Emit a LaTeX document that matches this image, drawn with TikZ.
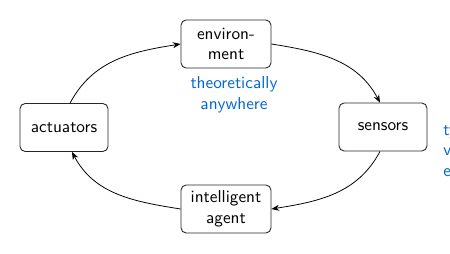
\documentclass[tikz,border=0pt]{standalone}
\usetikzlibrary{arrows.meta}
\definecolor{noteblue}{RGB}{0,102,204}
\begin{document}
\begin{tikzpicture}[x=0.58pt,y=-0.58pt,
  font=\sffamily,
  block/.style={draw=black!85, line width=0.5pt, rounded corners=3pt,
    minimum width=88*0.58pt, minimum height=48*0.58pt, align=center,
    inner sep=2pt},
  flow/.style={-{Stealth[length=4.5pt,width=3.5pt]}, line width=0.45pt},
  note/.style={text=noteblue, align=center}]
  \useasboundingbox (0,0) rectangle (450,254);
  \clip (0,0) rectangle (450,254);

  \node[block, minimum width=90*0.58pt] (env) at (226,44) {environ-\\ment};
  \node[block] (act) at (64,127.5) {actuators};
  \node[block] (sen) at (383,127) {sensors};
  \node[block, minimum width=90*0.58pt] (agent) at (226,209) {intelligent\\agent};

  \node[note] (where) at (234,95) {theoretically\\anywhere};
  \node[note, anchor=west, align=left, inner sep=0pt] (side) at (443,150)
    {typically\\via\\environment};

  \draw[flow] (env.east) to[out=-9, in=118] (sen.97);
  \draw[flow] (sen.263) to[out=242, in=9] (agent.east);
  \draw[flow] (agent.west) to[out=171, in=-62] (act.-72);
  \draw[flow] (act.76) to[out=62, in=189] (env.west);
\end{tikzpicture}
\end{document}
